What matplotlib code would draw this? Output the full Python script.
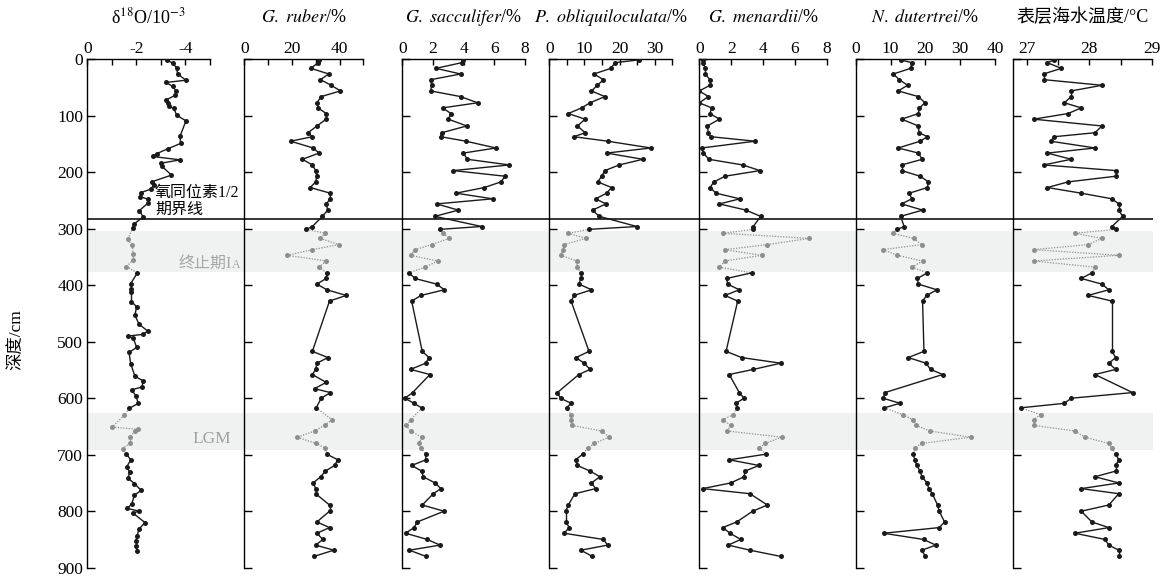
import numpy as np
import matplotlib
matplotlib.use("Agg")
import matplotlib.pyplot as plt

plt.rcParams["font.family"] = ["Liberation Serif", "Noto Sans CJK SC"]
plt.rcParams["mathtext.fontset"] = "stix"
plt.rcParams["axes.unicode_minus"] = False

nan = np.nan

# oxygen isotope record (own sampling)
d18o_depth = [2, 7, 16, 26, 37, 41, 48, 56, 64, 72, 78, 83, 87, 99, 109, 136, 149, 158, 167, 172,
              178, 184, 189, 205, 217, 222, 230, 236, 243, 248, 255, 268, 279, 291, 298,
              319, 329, 345, 355, 367,
              378, 397, 406, 412, 429, 438, 453, 469, 481, 487, 490, 494, 510, 519, 539, 561,
              569, 580, 585, 596, 609, 618,
              630, 651, 655, 658, 669, 680, 689,
              698, 709, 722, 730, 742, 751, 763, 772, 787, 795, 800, 803, 820, 831, 843, 853,
              862, 870]
d18o = [-3.26, -3.5, -3.64, -3.68, -4.02, -3.21, -3.48, -3.61, -3.57, -3.21, -3.28, -3.34, -3.53,
        -3.64, -4.02, -3.78, -3.8, -3.3, -2.83, -2.66,
        -3.78, -3.0, -3.03, -3.43, -2.62, -2.72, -2.58, -2.18, -2.15, -2.49, -2.46, -2.12, -2.28,
        -1.92, -1.85,
        -1.65, -1.82, -1.88, -1.88, -1.59,
        -2.04, -1.77, -1.8, -1.8, -1.8, -2.01, -1.94, -2.11, -2.46, -2.26, -1.64, -1.88, -2.01,
        -1.7, -1.77, -1.94,
        -2.26, -2.24, -1.81, -1.98, -2.08, -1.71,
        -1.5, -1.02, -2.05, -1.94, -1.74, -1.74, -1.44,
        -1.58, -1.77, -1.6, -1.72, -1.67, -1.92, -2.19, -1.92, -1.81, -1.63, -2.12, -1.85,
        -2.35, -2.12, -2.03, -1.98, -1.98, -2.03]

# faunal samples (shared depths, nan = not plotted)
depth = [1, 6, 16, 26, 36, 46, 56, 66, 77, 86,
         96, 106, 118, 130, 137, 145, 157, 166, 177, 187,
         197, 207, 217, 227, 237, 247, 256, 267, 278, 296,
         301, 308, 317, 328, 337, 347, 357, 368, 378, 388,
         398, 408, 418, 428, 517, 528, 538, 549, 558, 572,
         583, 590, 600, 609, 617, 629, 638, 648, 658, 669,
         680, 688, 699, 709, 719, 729, 739, 750, 760, 769,
         789, 800, 819, 829, 839, 850, 860, 869, 880]

ruber = [31.5, 31, 28, 35.5, 32, 36.5, 40.4, 32.3, 30.5, 31,
         34.4, 34.4, 30.5, 26.8, 28.6, 19.5, 28.9, 31.4, 24.4, 28.6,
         30, 30.5, 30, 27.7, 36.1, 36.2, 34.4, 35.1, 32.8, 28.6,
         26.1, 34.1, 31.9, 39.7, 28.6, 18, 34.4, 31.4, 34.7, 34.4,
         30.5, 34.7, 42.8, 35.8, 28.6, 35.1, 30.5, 30, 28.6, 34.4,
         29.5, 36.2, 32.3, nan, 30.2, nan, 36.9, 33.7, 29.5, 22.3,
         30, 34.1, 34.7, 39.3, 37.9, 34.1, 32.1, 28.9, 30, 30,
         35.8, 35.8, 30.5, 35.8, 30.5, 33, 30, 37.6, 29.3]

sacculifer = [3.98, 3.87, 2.2, 3.8, 1.87, 1.91, 1.85, 3.8, 4.91, 2.63,
              3.17, 3.0, 4.2, 2.57, 2.5, 4.15, 6.1, 3.98, 4.24, 6.98,
              3.33, 6.7, 6.43, 5.35, 3.5, 5.89, 2.24, 3.65, 2.13, 5.17,
              2.46, 2.67, 3.07, 1.91, 0.83, 0.54, 2.3, 1.48, 0.43, 0.83,
              2.24, 2.74, 1.22, 0.61, 1.3, 1.74, 1.52, 0.54, 1.8, nan,
              nan, 0.67, 0.17, 0.76, 1.26, nan, 0.57, 0.24, 0.54, 1.26,
              1.09, 1.22, 1.52, 1.54, 0.61, 1.26, 1.37, 2.13, 2.52, 2.02,
              1.3, 2.72, 0.98, 0.76, 0.22, 1.63, 2.46, 0.46, 1.54]

obliquiloculata = [25.5, 18.7, 17.5, 12.7, 15.4, 13.7, 12, 15.8, 11.6, 9.2,
                   5.4, 10.2, 8, 10.2, 7, 16.6, 28.9, 16.3, 26.6, 19.9,
                   15.8, 14.9, 13.8, 17.7, 16.3, 13.2, 16.1, 12.3, 14.2, 24.9,
                   11.4, 5.4, 10.4, 4.2, 4.0, 3.2, 7.8, 8.0, 8.9, 8.9,
                   8.5, 12, 7.1, 6.2, 11.3, 7.6, 9.9, 11.6, 8.4, nan,
                   nan, 2.3, 3.2, 6.2, 4.9, 6.2, 6.2, 6.4, 14.9, 17,
                   12.8, 10.9, 9.5, 7.5, 8, 11.6, 14.4, 12, 13.2, 7.3,
                   5.4, 4.7, 4.7, 5.7, 4.2, 15.4, 16.6, 9, 12.2]

menardii = [0.25, 0.25, 0.36, 0.36, 0.67, 0.67, 0, 0.57, 0, 0.77,
            0.67, 1.26, 0.5, 0.57, 0.71, 3.5, 0.15, 0.25, 0.6, 2.72,
            3.81, 1.61, 0.92, 0.67, 1.05, 2.55, 1.26, 2.93, 3.85, 3.39,
            3.39, 1.47, 6.91, 4.27, 1.61, 3.92, 1.61, 1.26, 3.29, 1.72,
            1.78, 2.51, 1.61, 2.41, 1.68, 2.66, 5.11, 3.39, 1.88, nan,
            nan, 2.51, 2.81, 2.3, 2.35, 2.14, 1.47, 1.97, 1.76, 5.17,
            4.13, 3.77, 4.19, 1.88, 3.75, 2.87, 2.81, 1.97, 0.21, 3.18,
            4.27, 3.35, 2.35, 1.47, 1.93, 2.6, 1.82, 3.18, 5.11]

dutertrei = [12.9, 16.1, 15.8, 10.8, 12.5, 14.9, 12.2, 18, 19.9, 18.3,
             18, 13.2, 18, 18.2, 20.6, 18.5, 12.2, 18, 19.1, 13.2,
             13.2, 18.5, 20.9, 20.6, 15.4, 16.1, 13.2, 19.2, 12.9, 13.9,
             12, 10.6, 16.7, 18.9, 7.8, 12, 19.2, 16.1, 20.6, 17.7,
             18, 23.3, 20.4, 19.2, 19.6, 15.1, 20.2, 21.5, 25, nan,
             nan, 8.4, 7.9, 12.7, 8.2, 13.5, 16.4, 17.3, 21.3, 33,
             18.9, 17, 16.5, 17, 17.5, 18.5, 19, 20.5, 21, 22,
             23.5, 24, 25.5, 24, 8, 19.5, 23, 19, 20]

sst = [27.44, 27.33, 27.55, 27.27, 27.27, 28.2, 27.71, 27.71, 27.6, 27.87,
       27.66, 27.11, 28.2, 28.09, 27.44, 27.38, 28.09, 27.33, 27.71, 27.27,
       28.42, 28.42, 27.66, 27.33, 27.87, 28.36, 28.47, 28.47, 28.53, 28.36,
       28.42, 27.77, 28.2, 27.98, 27.11, 28.47, 27.11, 28.09, 28.04, 27.87,
       28.2, 28.31, 27.98, 28.36, 28.36, 28.42, 28.31, 28.42, 28.09, nan,
       nan, 28.69, 27.71, 27.6, 26.9, 27.22, 27.11, 27.11, 27.77, 27.93,
       28.31, 28.36, 28.42, 28.47, 28.42, 28.42, 28.09, 28.47, 27.87, 28.47,
       28.31, 27.87, 28.04, 28.31, 27.77, 28.25, 28.31, 28.47, 28.47]

bands = [(304, 376), (627, 691)]
boundary_depth = 282

BLACK = "#1a1a1a"
GRAY = "#8e8e8e"
BAND = "#eff2f1"

W, H = 1175, 580
fig = plt.figure(figsize=(W / 100, H / 100), dpi=100)
y_top, y_bot = 59.3, 567.7
ax_bottom = 1 - y_bot / H
ax_height = (y_bot - y_top) / H

panels = [
    ("δ$^{18}$O/10$^{-3}$", d18o_depth, d18o, (0, -5), [0, -2, -4], [-1, -3, -5], 87.3, 210.0),
    (r"$\mathit{G.\ ruber}$/%", depth, ruber, (0, 50), [0, 20, 40], [10, 30, 50], 244.3, 363.3),
    (r"$\mathit{G.\ sacculifer}$/%", depth, sacculifer, (0, 8), [0, 2, 4, 6, 8], [], 402.3, 525.0),
    (r"$\mathit{P.\ obliquiloculata}$/%", depth, obliquiloculata, (0, 35), [0, 10, 20, 30],
     [5, 15, 25, 35], 549.3, 672.3),
    (r"$\mathit{G.\ menardii}$/%", depth, menardii, (0, 8), [0, 2, 4, 6, 8], [], 699.3, 826.7),
    (r"$\mathit{N.\ dutertrei}$/%", depth, dutertrei, (0, 40), [0, 10, 20, 30, 40], [], 855.7, 995.0),
    ("表层海水温度/°C", depth, sst, (26.78, 29), [27, 28, 29], [27.5, 28.5], 1013.0, 1152.0),
]


def in_band(d):
    mask = np.zeros(len(d), bool)
    for lo, hi in bands:
        mask |= (d >= lo) & (d <= hi)
    return mask


def draw_series(ax, d, v):
    d = np.asarray(d, float)
    v = np.asarray(v, float)
    ok = ~np.isnan(v)
    d, v = d[ok], v[ok]
    inside = in_band(d)
    for i in range(len(d) - 1):
        if inside[i] or inside[i + 1]:
            ax.plot(v[i:i + 2], d[i:i + 2], color=GRAY, lw=0.9, ls=(0, (1, 1.2)), zorder=2)
        else:
            ax.plot(v[i:i + 2], d[i:i + 2], color=BLACK, lw=1.0, zorder=3)
    ax.plot(v[~inside], d[~inside], "o", color=BLACK, ms=3.6, mec="none", zorder=4)
    ax.plot(v[inside], d[inside], "o", color=GRAY, ms=3.6, mec="none", zorder=4)


# shared background: shaded intervals and the MIS 1/2 boundary
bg = fig.add_axes([87.3 / W, ax_bottom, (1153 - 87.3) / W, ax_height])
bg.set_ylim(900, 0)
bg.set_xlim(0, 1)
for lo, hi in bands:
    bg.axhspan(lo, hi, color=BAND, lw=0)
bg.axhline(boundary_depth, color="black", lw=1.1)
bg.axis("off")
bg.set_zorder(0)

axes = []
for k, (title, d, v, xlim, major, minor, x0, x1) in enumerate(panels):
    ax = fig.add_axes([x0 / W, ax_bottom, (x1 - x0) / W, ax_height])
    ax.set_zorder(1)
    ax.patch.set_alpha(0)
    ax.set_ylim(900, 0)
    ax.set_xlim(*xlim)
    draw_series(ax, d, v)

    ax.spines["right"].set_visible(False)
    ax.spines["bottom"].set_visible(False)
    for s in ("left", "top"):
        ax.spines[s].set_linewidth(1.0)
    ax.xaxis.tick_top()
    ax.set_xticks(major)
    ax.set_xticks(minor, minor=True)
    ax.set_xticklabels([f"{t:g}" for t in major])
    ax.set_yticks(range(0, 901, 100))
    ax.tick_params(axis="x", which="both", direction="in", length=4.5, width=1.0,
                   labelsize=12.5, pad=2)
    ax.tick_params(axis="y", which="both", direction="in", length=6, width=1.0,
                   labelsize=12.5, pad=3, labelleft=(k == 0))
    ax.text(0.5, 1.083, title, transform=ax.transAxes, ha="center", va="center", fontsize=13)
    axes.append(ax)

ax0 = axes[0]
fig.text(16 / W, 1 - 340 / H, "深度/cm", rotation=90, ha="center", va="center", fontsize=12.5)
ax0.text(-2.76, 251, "氧同位素1/2\n期界线", ha="left", va="center", fontsize=11.5,
         linespacing=1.05, clip_on=False, zorder=5)
ax0.text(-5.9, 369, "终止期I", ha="right", va="baseline", fontsize=11.5, color="#a6a6a6",
         clip_on=False, zorder=5)
ax0.text(-5.9, 369, "A", ha="left", va="baseline", fontsize=8.5, color="#a6a6a6",
         clip_on=False, zorder=5)
ax0.text(-5.08, 673, "LGM", ha="center", va="center", fontsize=12.5, color="#a0a0a0",
         clip_on=False, zorder=5)

fig.savefig("out.png", dpi=100)
